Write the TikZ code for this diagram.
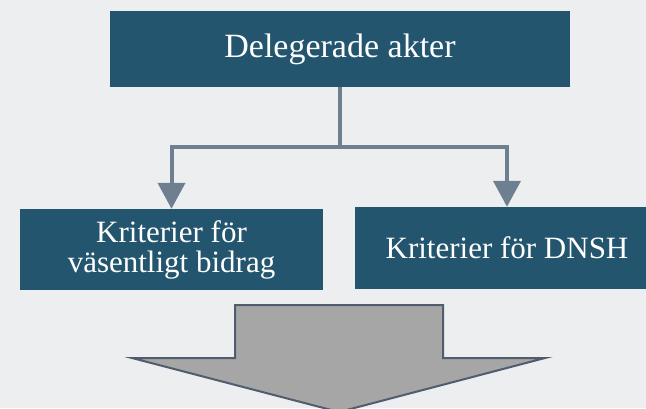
\documentclass[tikz,border=0pt]{standalone}
\usepackage{fontspec}
\setmainfont{Liberation Serif}
\usetikzlibrary{arrows.meta}

\definecolor{boxblue}{HTML}{23566E}
\definecolor{linkgray}{HTML}{6E7F91}
\definecolor{arrowfill}{HTML}{A6A6A6}
\definecolor{arrowline}{HTML}{4F5D6E}
\definecolor{backgray}{HTML}{EDEEF0}

\tikzset{
  actbox/.style={fill=boxblue, text=white, inner sep=0pt, align=center,
    font=\fontsize{31}{30}\selectfont},
  link/.style={draw=linkgray, line width=4pt,
    -{Triangle[width=27pt,length=26pt]}},
}

\begin{document}
\begin{tikzpicture}[x=1pt, y=-1pt]
\fill[backgray] (0, 0) rectangle (646, 408);
\useasboundingbox (0, 0) rectangle (646, 408);
\node[actbox, minimum width=460pt, minimum height=76pt,
    font=\fontsize{34}{34}\selectfont] (acts) at (340, 49) {Delegerade akter};
\node[actbox, minimum width=303pt, minimum height=81pt] (contrib) at (171.5, 249.5)
    {Kriterier för\\väsentligt bidrag};
\node[actbox, minimum width=304pt, minimum height=82pt] (dnsh) at (507, 248)
    {Kriterier för DNSH};
\coordinate (split) at (340, 147);
\draw[draw=linkgray, line width=4pt] (acts.south) -- (split);
\draw[link] (split) -| (contrib.north);
\draw[link] (split) -| (dnsh.north);
% big arrow
\draw[fill=arrowfill, draw=arrowline, line width=2pt, line join=miter]
    (235, 305) -- (443, 305) -- (443, 358) -- (545, 358)
    -- (339, 412) -- (132, 358) -- (235, 358) -- cycle;
\end{tikzpicture}
\end{document}
